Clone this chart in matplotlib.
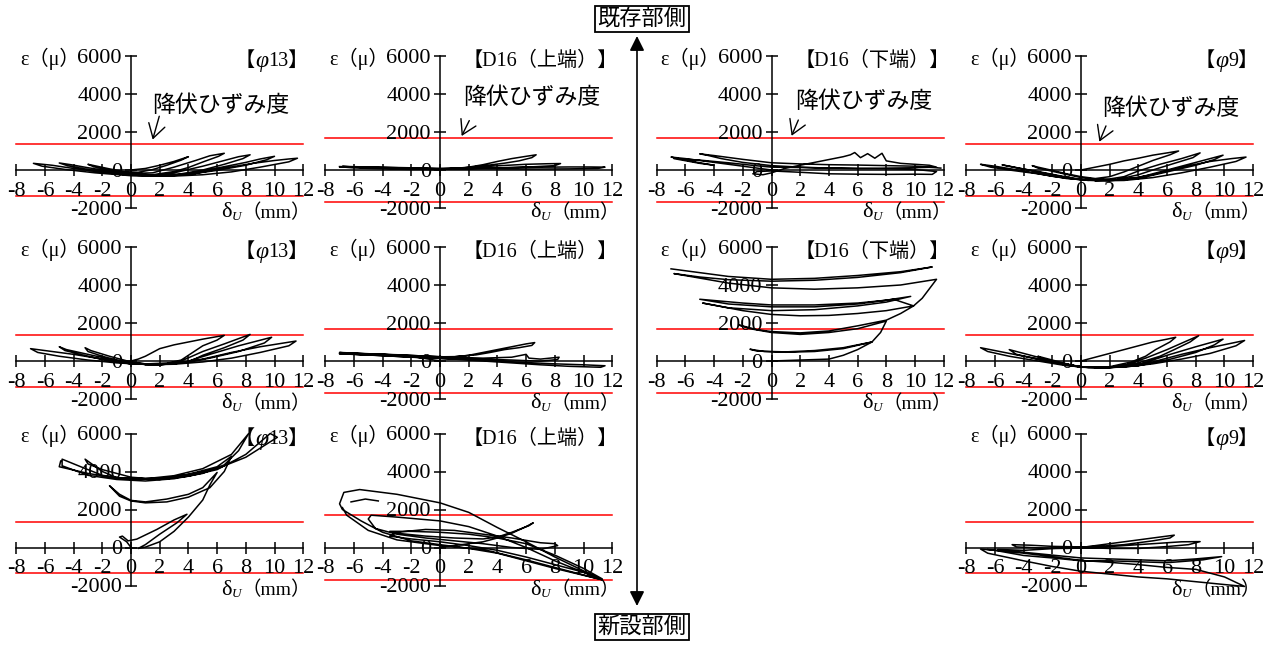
import numpy as np
import matplotlib
matplotlib.use("Agg")
import matplotlib.pyplot as plt

plt.rcParams['font.family'] = ['Liberation Serif', 'Noto Sans CJK JP']
plt.rcParams['axes.unicode_minus'] = False

nan = np.nan

# yield strains (micro)
yield_phi13 = 1350
yield_d16 = 1700
yield_phi9 = 1350

xticks = [-8, -6, -4, -2, 0, 2, 4, 6, 8, 10, 12]
yticks = [-2000, 0, 2000, 4000, 6000]

# hysteresis paths: (delta_U mm, strain micro)
phi13_r1 = [(0,0),(1,80),(2,250),(3,450),(4,700),(3.5,520),(2.5,250),(1.5,20),(0.5,-120),(-0.5,-80),
            (-1.5,60),(-2.5,220),(-3,300),(-2.6,170),(-1.5,0),(0,-180),(1.5,-150),(3,150),(4.5,500),(5.5,750),
            (6.5,880),(6.1,720),(5,420),(4,130),(3,-80),(1.5,-250),(0,-220),(-1.5,-60),(-3,120),(-4.2,280),
            (-5,370),(-4.4,220),(-3,30),(-1.5,-130),(0,-260),(1.5,-280),(3,-150),(5,200),(6.5,500),(7.5,700),
            (8.3,800),(7.8,600),(6.5,300),(5,0),(3.5,-200),(2,-300),(0,-280),(-2,-120),(-4,80),(-5.5,250),
            (-6.8,350),(-6.2,200),(-4.5,20),(-2.5,-150),(0,-300),(2,-320),(4,-200),(6,100),(8,400),(9,580),
            (10,720),(9.5,550),(8,250),(6,-20),(4,-230),(2,-320),(4,-250),(6.5,100),(8.5,350),(10,500),
            (11,580),(11.6,620),(11,430),(9,150),(7,-100),(5,-250),(3,-320),(0.5,-280)]

d16top_r1 = [(0,0),(-2,60),(-4,110),(-7,170),(-6,110),(-4,60),(-2,30),(0,40),(1,80),(2,150),(3,280),
             (4,450),(5,600),(6,720),(6.7,800),(6.4,650),(5.5,480),(4.5,360),(3,220),(1.5,100),(0,60),
             (-2,100),(-4,140),(-6.8,190),(-5,120),(-3,70),(0,70),(2,120),(4,220),(6,300),(7.5,330),
             (8.4,340),(8,230),(6.5,170),(5,130),(3,90),(1,60),(3,100),(6,140),(9,160),(10.5,160),
             (11.5,150),(11,80),(9,60),(7,50),(5,50),(3,60),(1,70),(-1,100),(-3,130),(-5,150),(-7,180)]

d16bot_r1 = [(0,0),(-1,100),(-2,200),(-3,300),(-4.5,450),(-6,600),(-7,680),(-6.5,600),(-5,380),(-4,250),
             (-5,350),(-6.8,600),(-5,520),(-3,380),(-1,220),(0,150),(2,130),(4,100),(6,80),(8,60),(10,30),
             (11.5,-80),(11.2,-230),(10,-220),(8,-230),(6,-220),(4,-200),(2,-120),(0,-50),(-1,-80),
             (-1.3,-200),(-0.6,-250),(0,-150),(1,100),(2,250),(3,400),(4,550),(5,700),(5.5,800),(5.8,920),
             (6.2,650),(6.7,860),(7.2,620),(7.7,880),(8,480),(9,350),(10,300),(11,250),(11.5,150),(10,120),
             (8,100),(6,80),(4,100),(2,150),(0,230),(-2,400),(-3.5,600),(-4.5,780),(-5,850),(-4,760),
             (-2,560),(0,380),(2,320),(4,280),(6,260),(8,230),(10,200),(11.8,100)]

phi9_r1 = [(0,0),(1,150),(2,300),(3,480),(4,620),(5,780),(6,900),(6.8,1000),(6.2,800),(5,500),(4,200),
           (3,-100),(2,-350),(1,-450),(0,-350),(-1,-200),(-2,-20),(-3,150),(-3.4,230),(-3,100),(-1.5,-150),
           (0,-400),(1,-480),(2,-470),(3,-350),(4,-50),(5.5,300),(7,600),(8.3,900),(7.8,650),(6.5,350),
           (5,0),(4,-250),(2.5,-500),(0.5,-550),(-1,-400),(-3,-100),(-5,200),(-5.5,270),(-4.5,120),
           (-3,-80),(-1.5,-300),(0,-500),(2,-550),(4,-400),(6,0),(8,400),(9,600),(9.9,780),(9.3,550),
           (8,250),(6,-100),(4,-450),(2,-560),(0,-520),(-2,-330),(-4,-50),(-6,200),(-7,300),(-6.3,150),
           (-5,0),(-3,-200),(-1,-450),(1,-560),(3,-500),(5,-250),(7,150),(9,450),(10.5,600),(11.5,680),
           (10.8,450),(9,150),(7,-150),(5,-400),(3,-550),(1,-570)]

phi13_r2 = [(0,0),(0.5,100),(1,250),(2,650),(3,850),(4,1000),(5,1150),(6.5,1350),(6,1100),(5,800),
            (4.2,400),(3.5,50),(2.5,-120),(1,-150),(0,-100),(-1,50),(-2,250),(-3,500),(-3.2,700),
            (-2.8,550),(-1.5,250),(0,-50),(1,-150),(2.5,-130),(3.5,0),(5,500),(6.5,900),(8.3,1400),
            (7.8,1100),(6.5,700),(5,300),(4,-50),(2,-180),(0,-120),(-1.5,100),(-3,350),(-4.5,600),
            (-5,750),(-4.6,550),(-3,250),(-1.5,0),(0,-150),(2,-200),(3.8,-50),(5.5,350),(7.5,800),
            (9.8,1250),(9.3,950),(7.5,500),(5.5,150),(3.8,-80),(2,-200),(0,-150),(-2,100),(-4,350),
            (-6,550),(-7,650),(-6.5,450),(-5,250),(-3,50),(-1,-100),(1,-180),(3,-150),(5,100),(7,450),
            (9,750),(11.5,1050),(11,800),(9,450),(7,150),(5,-50),(3,-170),(1,-200)]

d16top_r2 = [(0,0),(-2,250),(-4,350),(-7,450),(-6,380),(-4,300),(-2,250),(0,200),(1,220),(2,300),
             (3,450),(4,600),(5,750),(6,900),(6.6,970),(6.4,820),(5.5,700),(4.5,600),(3.5,450),(2.5,320),
             (1,230),(0,220),(-3,330),(-6.9,420),(-4,350),(-1,260),(1,200),(3,150),(5,200),(6,350),
             (6.2,150),(7,100),(8.3,200),(8.2,80),(7,-10),(5,50),(3,100),(1,150),(-1,200),(-4,300),
             (-7,380),(-4,280),(-1,170),(2,80),(4,0),(6,-80),(8,-150),(10,-200),(11.5,-250),(11.2,-330),
             (9,-280),(7,-200),(5,-100),(3,0),(1,100),(-2,200),(-5,320),(-7,400)]

d16bot_r2 = [(0,0),(2,50),(4,100),(5,300),(6,600),(7,1000),(5,700),(3,550),(1,480),(-1,520),(-1.5,620),
             (-0.5,500),(1,460),(3,500),(5,650),(7,1000),(7.6,1500),(8,2100),(6,1700),(4,1500),(2,1400),
             (0,1500),(-1.5,1700),(-2.3,1900),(-1,1650),(0,1550),(2,1480),(4,1580),(6,1850),(8,2150),
             (9,2500),(9.9,2900),(8,2650),(6,2500),(4,2400),(2,2380),(0,2450),(-2,2650),(-4.8,3050),
             (-3,2800),(0,2650),(3,2700),(6,2900),(8,3100),(9.7,3400),(8,3200),(6,3050),(3,2950),(0,2950),
             (-2,3050),(-5,3250),(-3,3000),(0,2850),(3,2850),(6,3000),(8.5,3250),(9.9,2900),(10.5,3300),
             (11.5,4300),(9,4000),(6,3850),(3,3780),(0,3850),(-3,4100),(-6.8,4600),(-5,4420),(-3,4280),
             (0,4200),(3,4250),(6,4400),(9,4650),(11.2,4950),(9,4700),(6,4500),(3,4350),(0,4300),
             (-3,4450),(-7,4850)]

phi9_r2 = [(0,0),(1,200),(2,400),(3,600),(4,800),(5,1000),(6,1150),(6.6,1250),(6.2,1000),(5.2,600),
           (4.5,250),(3.5,-50),(2,-300),(0.5,-350),(-0.5,-250),(-1.5,-50),(-2.5,150),(-3,250),(-2.6,100),
           (-1.5,-100),(0,-300),(1.5,-350),(3,-250),(4.5,150),(6,600),(7.2,1000),(8.2,1330),(7.6,1000),
           (6.5,600),(5.5,250),(4,-100),(2,-330),(0,-320),(-1.5,-100),(-3,200),(-4.5,500),(-5,600),
           (-4.5,350),(-3,100),(-1.5,-150),(0,-330),(2,-350),(4,-200),(6,300),(8,750),(9.9,1150),
           (9.3,850),(8,450),(6,50),(4,-250),(2,-350),(0,-300),(-2,-50),(-4,250),(-6,550),(-7,700),
           (-6.5,500),(-5,250),(-3,0),(-1,-250),(1,-360),(3,-300),(5,-50),(7,350),(9,700),(11.4,1080),
           (10.8,800),(9,400),(7,100),(5,-150),(3,-320),(1,-360)]

phi13_r3 = [(0,0),(-0.3,300),(-0.8,550),(-0.6,600),(-0.2,350),(0.4,440),(1.8,950),(3,1450),(3.9,1750),
            (3.2,1300),(2,700),(1,150),(0.5,-50),(1,20),(2,300),(3,850),(4,1600),(5,2500),(5.5,3300),
            (6,3950),(5,3150),(4,2800),(2.5,2550),(1,2400),(0,2480),(-0.8,2800),(-1.5,3250),(-0.8,2700),
            (0,2450),(1,2350),(2.5,2400),(4,2650),(5.5,3150),(6.5,4000),(7,4800),(6,4250),(4,3850),
            (2,3620),(0,3580),(-2,3800),(-3.5,4250),(-4.8,4650),(-4.8,4300),(-3,3800),(-1,3580),(1,3500),
            (3,3620),(5,3900),(6.5,4350),(7.5,5100),(8.2,6000),(7,4900),(5,4150),(3,3780),(1,3620),
            (-1,3680),(-2,4000),(-3.2,4650),(-3,4400),(-2,4100),(0,3700),(2,3580),(4,3750),(6,4100),
            (8,4900),(9.7,6000),(10.2,5800),(8,4750),(6,4150),(3,3700),(1,3620),(-1,3650),(-3,3900),
            (-5,4250),(-4.9,4550)]

d16top_r3 = [(0,0),(1,100),(2,200),(3,300),(4,500),(5,750),(6,1100),(6.5,1300),(6.2,1150),(5,800),
             (4,550),(3,450),(1,500),(-1,600),(-3,750),(-3.5,850),(-2,850),(0,800),(2,700),(4,500),(6,200),
             (8,-400),(10,-1100),(11.3,-1650),(10,-1300),(8,-900),(6,-500),(4,-150),(2,100),(0,300),
             (-2,450),(-3.5,600),(-3,800),(-1,950),(1,900),(3,700),(5,500),(7,250),(8,200),(8.2,100),
             (7,-100),(5,0),(3,200),(1,350),(-1,500),(-3,700),(-4.5,1000),(-5,1500),(-4.8,1700),(-3,1600),
             (0,1400),(2,1100),(4,600),(6,0),(8,-700),(11.3,-1700),(8,-1100),(6,-700),(4,-300),(2,-50),
             (0,150),(-2,350),(-4,800),(-5.5,1400),(-6.8,2000),(-7,2300),(-6.7,2900),(-5.6,3050),(-3,2800),
             (0,2350),(2,1850),(4,1050),(6,300),(8,-500),(11.3,-1700),(8,-1050),(6,-650),(3,-100),(0,100),
             (-3,400),(-5,900),(-6.5,1700),(-6.8,2100),(nan,nan),(-6.2,2400),(-5.2,2550),(-4.3,2450)]

phi9_r3 = [(0,0),(1,100),(2,200),(3,300),(4,400),(5,500),(6,600),(6.5,650),(6.2,500),(5,350),(3,150),
           (1,50),(0,30),(-2,60),(-3.5,120),(-4.8,150),(-4.5,30),(-3,-20),(-1,-50),(1,0),(3,100),(5,200),
           (7,300),(8.3,310),(7.5,150),(6,50),(4,-50),(2,-50),(0,0),(-2,-60),(-4,-150),(-5.8,-100),
           (-4,-250),(-2,-400),(0,-550),(2,-600),(4,-650),(6,-700),(8,-600),(9.8,-480),(8.5,-650),
           (6,-800),(4,-750),(2,-700),(0,-700),(-2,-550),(-4,-420),(-6,-150),(-7,-80),(-6.5,-300),
           (-4,-700),(-2,-1000),(0,-1250),(2,-1400),(4,-1550),(6,-1650),(8,-1800),(10,-1950),
           (11.4,-2050),(10,-1550),(8,-1150),(6,-1050),(4,-900),(2,-780),(0,-680),(-2,-480),(-4,-300),
           (-6.5,-100)]

W, H = 1271, 646
SX = 14.35
SY = 38 / 2000
col_x0 = [131, 440, 771.5, 1081]
row_y0 = [170, 361, 547.5]

fig = plt.figure(figsize=(W / 100, H / 100), dpi=100)


def make_ax(c, r):
    xl, xr, yb, yt = -9.5, 13.5, -2700, 6700
    left = col_x0[c] + xl * SX
    top = row_y0[r] - yt * SY
    w = (xr - xl) * SX
    h = (yt - yb) * SY
    ax = fig.add_axes([left / W, 1 - (top + h) / H, w / W, h / H])
    ax.set_xlim(xl, xr)
    ax.set_ylim(yb, yt)
    ax.patch.set_visible(False)
    ax.spines['top'].set_visible(False)
    ax.spines['right'].set_visible(False)
    for s in ['left', 'bottom']:
        ax.spines[s].set_position(('data', 0))
        ax.spines[s].set_linewidth(1.1)
    ax.spines['left'].set_bounds(-2000, 6000)
    ax.spines['bottom'].set_bounds(-8, 12)
    ax.set_xticks(xticks)
    ax.set_xticklabels([str(v) for v in xticks])
    ax.set_yticks(yticks)
    ax.set_yticklabels([str(v) for v in yticks])
    ax.tick_params(direction='inout', length=9, width=1.1, labelsize=16, pad=2)
    ax.tick_params(axis='x', pad=4)
    ax.text(-3.6, 6000, 'ε（μ）', ha='right', va='center_baseline', fontsize=14.5)
    t3 = ax.text(12.55, -2250, '（mm）', ha='right', va='center', fontsize=14)
    ax.annotate('U', xy=(0, 0.5), xycoords=t3, xytext=(0, -3), textcoords='offset points',
                ha='right', va='center', fontsize=9.5, style='italic')
    ax.annotate('δ', xy=(0, 0.5), xycoords=t3, xytext=(-7, 0), textcoords='offset points',
                ha='right', va='center', fontsize=16)
    return ax


def bar_title(ax, name):
    if name.startswith('D16'):
        ax.text(12.4, 5700, '【' + name + '】', ha='right', va='center', fontsize=14.5)
    else:
        t3 = ax.text(12.35, 5700, name[1:] + '】', ha='right', va='center', fontsize=14.5)
        t2 = ax.annotate('φ', xy=(0, 0.5), xycoords=t3, ha='right', va='center',
                         fontsize=17, style='italic')
        ax.annotate('【', xy=(0, 0.5), xycoords=t2, ha='right', va='center', fontsize=14.5)


panels = [
    (0, 0, 'φ13', phi13_r1, yield_phi13, (1.5, 3370, 1.97, 2830, 1.51, 1600)),
    (1, 0, 'D16（上端）', d16top_r1, yield_d16, (1.6, 3790, 2.04, 2600, 1.51, 1790)),
    (2, 0, 'D16（下端）', d16bot_r1, yield_d16, (1.63, 3550, 1.87, 2630, 1.40, 1800)),
    (3, 0, 'φ9', phi9_r1, yield_phi9, (1.46, 3210, 1.74, 2320, 1.28, 1490)),
    (0, 1, 'φ13', phi13_r2, yield_phi13, None),
    (1, 1, 'D16（上端）', d16top_r2, yield_d16, None),
    (2, 1, 'D16（下端）', d16bot_r2, yield_d16, None),
    (3, 1, 'φ9', phi9_r2, yield_phi9, None),
    (0, 2, 'φ13', phi13_r3, yield_phi13, None),
    (1, 2, 'D16（上端）', d16top_r3, yield_d16, None),
    (3, 2, 'φ9', phi9_r3, yield_phi9, None),
]

for c, r, name, pts, ey, note in panels:
    ax = make_ax(c, r)
    xs = [p[0] for p in pts]
    ys = [p[1] for p in pts]
    ax.plot([-8, 12], [ey, ey], color='red', lw=1.1, zorder=1)
    ax.plot([-8, 12], [-ey, -ey], color='red', lw=1.1, zorder=1)
    ax.plot(xs, ys, color='black', lw=1.1, clip_on=False, zorder=3)
    bar_title(ax, name)
    if note is not None:
        tx, ty, ax0, ay0, ax1, ay1 = note
        ax.text(tx, ty, '降伏ひずみ度', ha='left', va='center', fontsize=16.5)
        ax.annotate('', xy=(ax1, ay1), xytext=(ax0, ay0),
                    arrowprops=dict(arrowstyle='->,head_length=0.5,head_width=0.3', lw=1.0,
                                    color='black', mutation_scale=20, shrinkA=0, shrinkB=0))

# centre arrow and side labels
ov = fig.add_axes([0, 0, 1, 1])
ov.set_xlim(0, W)
ov.set_ylim(H, 0)
ov.axis('off')
ov.patch.set_visible(False)
ov.annotate('', xy=(637, 36), xytext=(637, 606),
            arrowprops=dict(arrowstyle='<|-|>', lw=1.2, color='black', mutation_scale=22,
                            shrinkA=0, shrinkB=0))
box = dict(boxstyle='square,pad=0.12', fc='white', ec='black', lw=1.3)
ov.text(642, 19, '既存部側', ha='center', va='center', fontsize=16, bbox=box)
ov.text(642, 627, '新設部側', ha='center', va='center', fontsize=16, bbox=box)

fig.savefig('out.png', dpi=100)
